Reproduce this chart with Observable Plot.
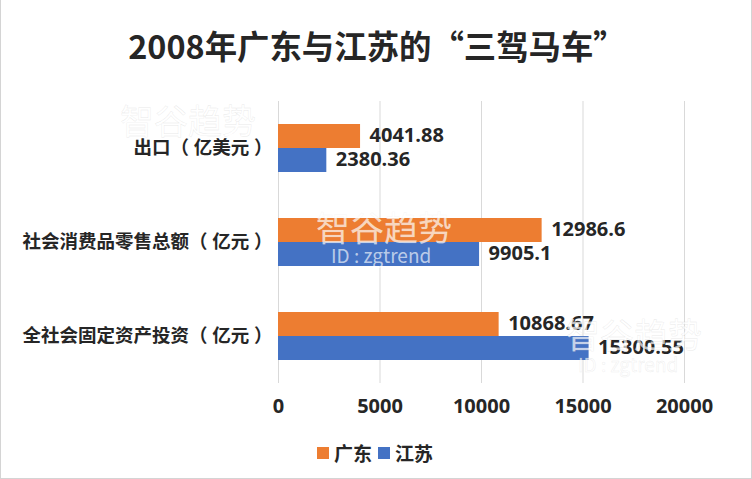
<!DOCTYPE html>
<html lang="zh">
<head>
<meta charset="utf-8">
<script src="https://cdn.jsdelivr.net/npm/d3@7"></script>
<script src="https://cdn.jsdelivr.net/npm/@observablehq/plot@0.6"></script>
<style>
  html, body { margin: 0; padding: 0; background: #fff; }
  #chart {
    position: relative; width: 752px; height: 479px; overflow: hidden; box-sizing: border-box;
    font-family: "Open Sans", "Noto Sans CJK SC", sans-serif; color: #262626; background: #fff;
  }
  #chart::after {
    content: ""; position: absolute; inset: 0; pointer-events: none;
    border: 1px solid #d4d4d4; border-top: none;
  }
  #title { position: absolute; left: 2px; right: 0; top: 21px; text-align: center; font-size: 32.4px; font-weight: 700; line-height: 48px; color: #262626; font-family: "Noto Sans CJK SC", sans-serif; }
  #plot { position: absolute; left: 0; top: 80px; }
  #legend { position: absolute; left: 317px; top: 439px; display: flex; gap: 6px; font-size: 19px; font-weight: 700; line-height: 28px; font-family: "Noto Sans CJK SC", sans-serif; }
  #legend span.item { display: inline-flex; align-items: center; gap: 5px; }
  #legend i { display: inline-block; width: 12px; height: 12px; }
  .wm { position: absolute; white-space: nowrap; font-family: "Noto Sans CJK SC", sans-serif; font-weight: 400; pointer-events: none; }
</style>
</head>
<body>
<div id="chart">
  <div id="title"></div>
  <div id="plot"></div>
  <div id="legend"></div>
</div>
<script>
const chartTitle = "2008年广东与江苏的“三驾马车”";
const categories = ["出口（ 亿美元 ）", "社会消费品零售总额（ 亿元 ）", "全社会固定资产投资（ 亿元 ）"];
const seriesNames = ["广东", "江苏"];
const guangdong = [4041.88, 12986.6, 10868.67];
const jiangsu = [2380.36, 9905.1, 15300.55];
const seriesColors = ["#ED7D31", "#4472C4"];
const xTicks = [0, 5000, 10000, 15000, 20000];
const watermarkName = "智谷趋势";
const watermarkId = "ID : zgtrend";

const rows = categories.flatMap((category, i) => [
  {category, series: seriesNames[0], value: guangdong[i]},
  {category, series: seriesNames[1], value: jiangsu[i]}
]);

const font = '"Open Sans", "Noto Sans CJK SC", sans-serif';
const ink = "#262626";

const plot = Plot.plot({
  width: 752,
  height: 340,
  marginTop: 21,
  marginBottom: 37,
  marginLeft: 278,
  marginRight: 68,
  style: {fontFamily: font, fontWeight: 700, fontSize: "20px", background: "transparent", color: ink},
  x: {domain: [0, 20000], ticks: xTicks},
  y: {domain: seriesNames, paddingInner: 0, paddingOuter: 0.914, axis: null},
  fy: {domain: categories, padding: 0, label: null},
  color: {domain: seriesNames, range: seriesColors},
  marks: [
    Plot.ruleX(xTicks, {stroke: "#d9d9d9", strokeWidth: 1, strokeOpacity: 1}),
    Plot.barX(rows, {x: "value", y: "series", fy: "category", fill: "series"}),
    Plot.text(rows, {x: "value", y: "series", fy: "category", text: d => String(d.value), textAnchor: "start", dx: 9, dy: -1, fontSize: 20, fontWeight: 700, fill: ink}),
    Plot.axisX({values: xTicks, anchor: "bottom", tickSize: 0, tickPadding: 15, tickFormat: d => String(d), label: null, fontSize: 20, fontWeight: 700, fill: ink}),
    Plot.axisFy({anchor: "left", tickSize: 0, tickPadding: 6, label: null, fontSize: 18.5, fontWeight: 700, fill: ink, textOverflow: null, lineWidth: 40})
  ]
});
document.getElementById("plot").appendChild(plot);

document.getElementById("title").textContent = chartTitle;

const legend = document.getElementById("legend");
seriesNames.forEach((name, i) => {
  const item = document.createElement("span");
  item.className = "item";
  const sw = document.createElement("i");
  sw.style.background = seriesColors[i];
  item.append(sw, document.createTextNode(name));
  legend.append(item);
});

// Watermark overlays that sit on top of the picture
const chart = document.getElementById("chart");
function wm(text, left, top, size, color, stroke) {
  const d = document.createElement("div");
  d.className = "wm";
  d.textContent = text;
  d.style.left = left + "px";
  d.style.top = top + "px";
  d.style.fontSize = size + "px";
  d.style.lineHeight = "1";
  d.style.color = color;
  if (stroke) d.style.webkitTextStroke = "0.4px " + stroke;
  chart.append(d);
}
wm(watermarkName, 120, 103, 34, "rgba(255,255,255,0.7)", "rgba(205,205,205,0.45)");
wm(watermarkName, 316, 210, 34, "rgba(255,255,255,0.7)", "rgba(215,215,215,0.25)");
wm(watermarkId, 331, 245, 19, "rgba(255,255,255,0.65)");
wm(watermarkName, 566, 317, 34, "rgba(255,255,255,0.7)", "rgba(205,205,205,0.45)");
wm(watermarkId, 578, 354, 19, "rgba(255,255,255,0.65)", "rgba(205,205,205,0.4)");
</script>
</body>
</html>
